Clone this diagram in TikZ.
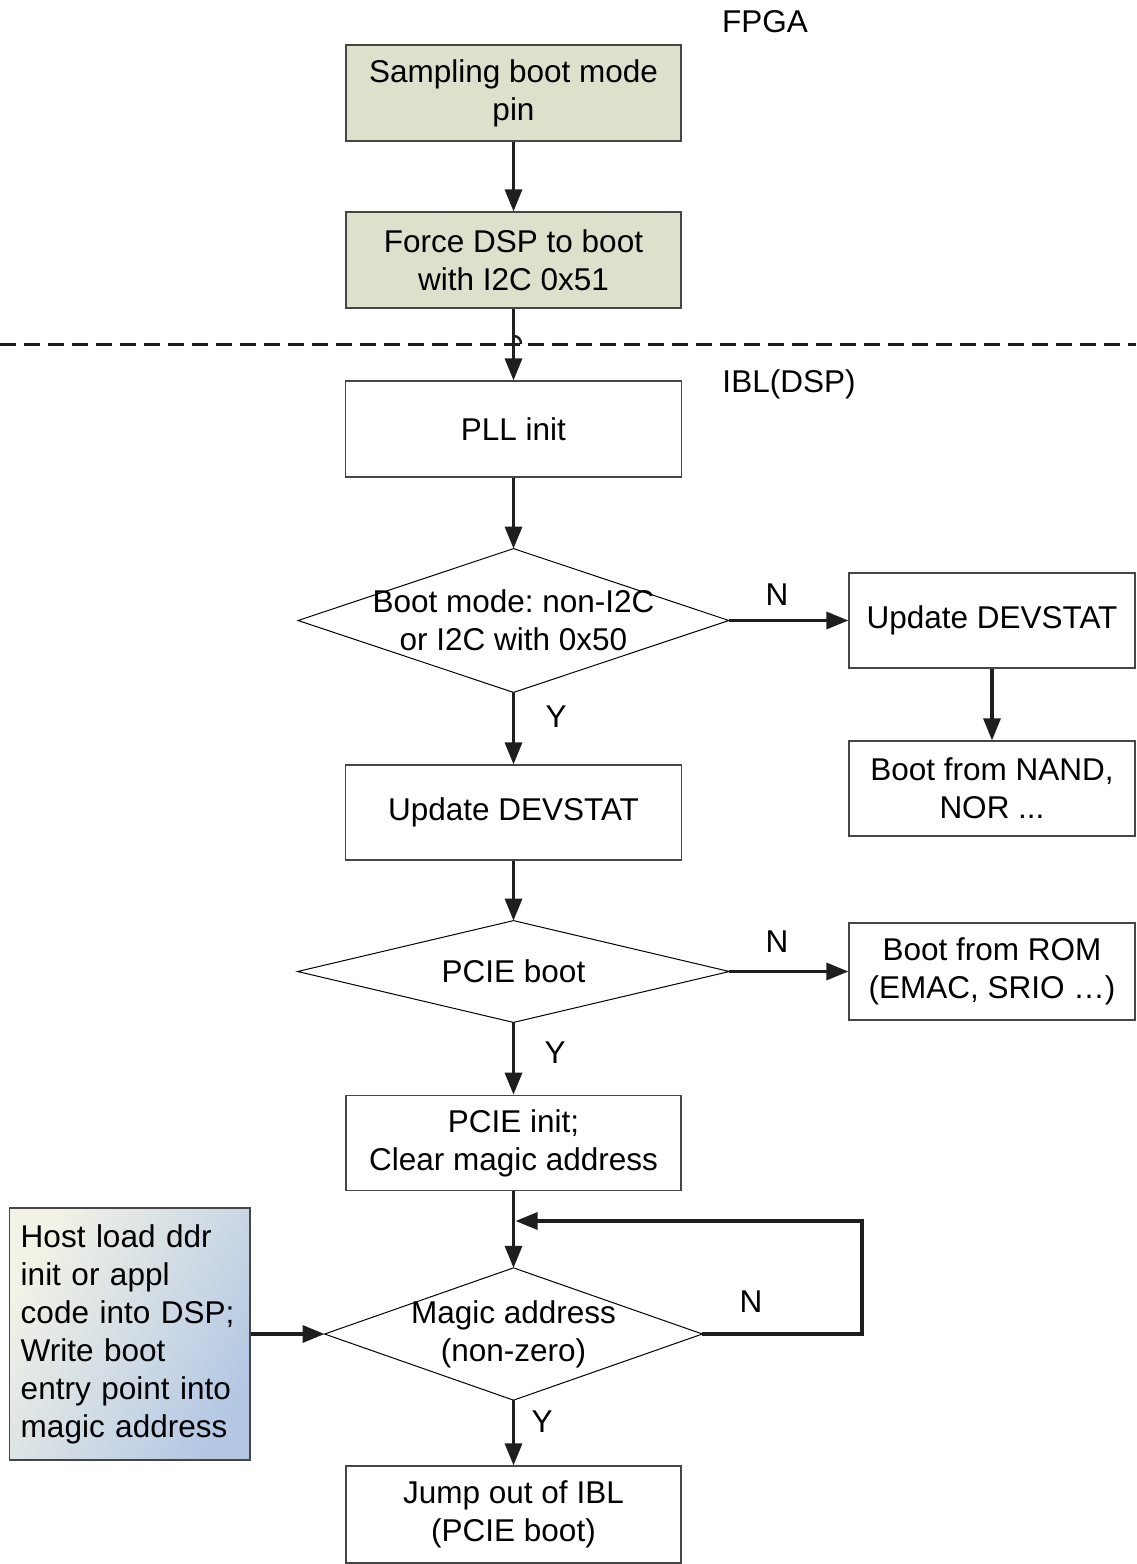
\documentclass[tikz,border=0pt]{standalone}
\usepackage{fontspec}
\setmainfont{Liberation Sans}
\frenchspacing
\usetikzlibrary{arrows.meta}
\definecolor{olivefill}{RGB}{221,225,204}
\definecolor{edgegray}{RGB}{70,70,70}
\definecolor{hostcream}{RGB}{242,242,230}
\definecolor{hostblue}{RGB}{180,200,228}
\definecolor{inkblack}{RGB}{30,30,30}
\tikzset{
  every node/.style={font=\fontsize{15.75}{19}\selectfont, text=black},
  procbox/.style={draw=edgegray, line width=0.6pt, fill=white, align=center, inner sep=0pt},
  fpgabox/.style={procbox, fill=olivefill},
  decbox/.style={draw=none, align=center, inner sep=0pt},
  decline/.style={draw=black, line width=0.5pt},
  flow/.style={line width=1.6pt, draw=inkblack, -{Triangle[length=11pt,width=8.5pt]}},
  sepline/.style={line width=1.5pt, draw=inkblack, dash pattern=on 8pt off 4pt},
  lbl/.style={inner sep=0pt},
}
\begin{document}
\begin{tikzpicture}[x=0.5pt, y=-0.5pt]
\useasboundingbox (0,0) rectangle (1136,1564);
% region labels
\node[lbl] (fpga) at (765,22) {FPGA};
\node[lbl] (ibl) at (789,384) {IBL(DSP)};
% FPGA boxes
\node[fpgabox, minimum width=167.5pt, minimum height=48pt] (b1) at (513.5,93) {Sampling boot mode\\pin};
\node[fpgabox, minimum width=167.5pt, minimum height=48pt] (b2) at (513.5,260) {Force DSP to boot\\with I2C 0x51};
% separator
\coordinate (sepL) at (0,344);
\coordinate (sepR) at (1136,344);
\draw[sepline] (sepL) -- (sepR);
% DSP boxes
\node[procbox, minimum width=168pt, minimum height=48pt] (pll) at (513.5,429) {PLL init};
\node[decbox, minimum width=215pt, minimum height=71.5pt] (d1) at (513.5,620.5) {Boot mode: non-I2C\\or I2C with 0x50};
\draw[decline] (d1.north) -- (d1.east) -- (d1.south) -- (d1.west) -- cycle;
\node[procbox, minimum width=143pt, minimum height=47.5pt] (upd2) at (992,620.5) {Update DEVSTAT};
\node[procbox, minimum width=143pt, minimum height=47.5pt] (nand) at (992,788.5) {Boot from NAND,\\NOR ...};
\node[procbox, minimum width=168pt, minimum height=47.5pt] (upd1) at (513.5,812.5) {Update DEVSTAT};
\node[decbox, minimum width=215.5pt, minimum height=50.5pt] (d2) at (513.5,971.5) {PCIE boot};
\draw[decline] (d2.north) -- (d2.east) -- (d2.south) -- (d2.west) -- cycle;
\node[procbox, minimum width=143pt, minimum height=48.5pt] (rom) at (992,971.5) {Boot from ROM\\(EMAC, SRIO \ldots)};
\node[procbox, minimum width=167.5pt, minimum height=47.75pt] (pinit) at (513.5,1143) {PCIE init;\\Clear magic address};
\node[decbox, minimum width=188.5pt, minimum height=65.75pt] (d3) at (513.5,1334) {Magic address\\(non-zero)};
\draw[decline] (d3.north) -- (d3.east) -- (d3.south) -- (d3.west) -- cycle;
\node[draw=edgegray, line width=0.6pt, top color=hostcream, bottom color=hostblue, shading angle=60,
      align=left, text width=109pt, inner xsep=5.5pt, inner ysep=0pt,
      minimum width=120.25pt, minimum height=126pt] (host) at (129.75,1334)
      {Host load ddr\\init or appl\\code into DSP;\\Write boot\\entry point into\\magic address};
\node[procbox, minimum width=167.5pt, minimum height=48.5pt] (jump) at (513.5,1514.5) {Jump out of IBL\\(PCIE boot)};
% labels
\node[lbl] (n1) at (777,594.5) {N};
\node[lbl] (y1) at (556,717) {Y};
\node[lbl] (n2) at (777,942) {N};
\node[lbl] (y2) at (555,1053) {Y};
\node[lbl] (n3) at (751,1302) {N};
\node[lbl] (y3) at (542,1422) {Y};
% connectors
\draw[flow] (b1) -- (b2);
\draw[flow] (b2) -- (pll);
\coordinate (hopA) at (513.5,336);
\coordinate (hopB) at (521,344);
\draw[line width=1.2pt, draw=inkblack] (hopA) .. controls (518,336) and (521,339) .. (hopB);
\draw[flow] (pll) -- (d1.north);
\draw[flow] (d1.east) -- (upd2);
\draw[flow] (upd2) -- (nand);
\draw[flow] (d1.south) -- (upd1);
\draw[flow] (upd1) -- (d2.north);
\draw[flow] (d2.east) -- (rom);
\draw[flow] (d2.south) -- (pinit);
\draw[flow] (pinit) -- (d3.north);
\coordinate (loopR) at (862,1334);
\coordinate (loopT) at (862,1221);
\coordinate (loopin) at (515.5,1221);
\draw[flow] (d3.east) -- (loopR) -- (loopT) -- (loopin);
\draw[flow] (host) -- (d3.west);
\draw[flow] (d3.south) -- (jump);
\end{tikzpicture}
\end{document}
